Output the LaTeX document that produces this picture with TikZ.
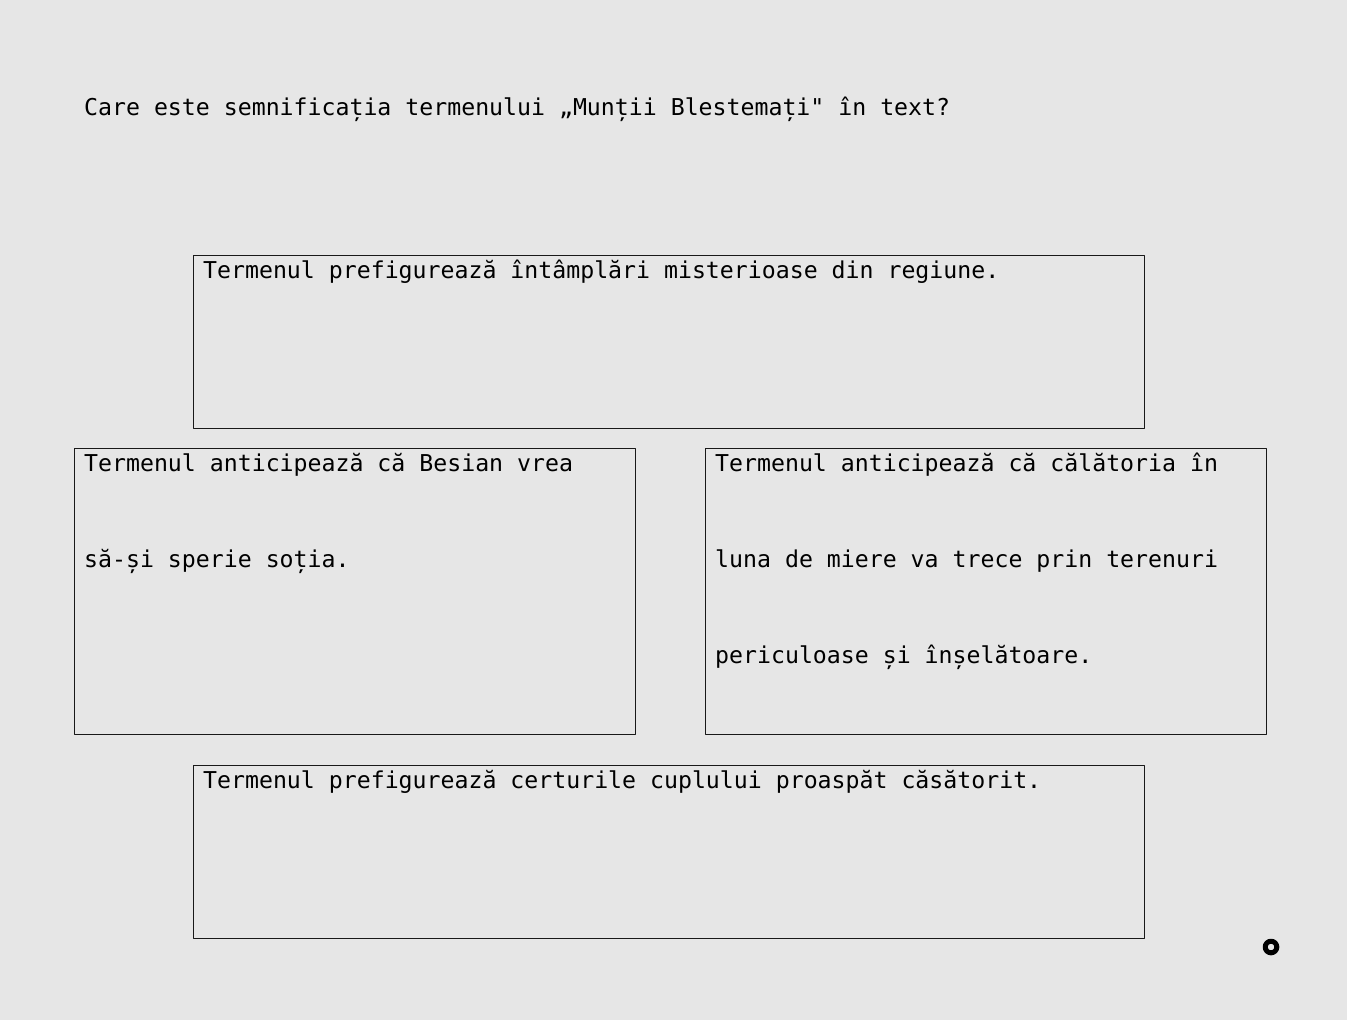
\documentclass[tikz,border=0pt]{standalone}
\usepackage{fontspec}
\setmonofont{DejaVu Sans Mono}
\usetikzlibrary{positioning}
\definecolor{paper}{HTML}{E6E6E6}
\begin{document}
\begin{tikzpicture}[
	x=1pt,y=-1pt,
	line join=round,
	answer/.style={draw=black!90,line width=1pt,inner sep=0pt,anchor=north west},
	wide/.style={answer,minimum width=951pt,minimum height=173pt},
	half/.style={answer,minimum width=561pt,minimum height=286pt},
	txt/.style={anchor=base west,inner sep=0pt,align=left,font=\ttfamily\fontsize{23.2}{96}\selectfont}
	]
	\fill[paper] (0,0) rectangle (1347,1020);
	\useasboundingbox (0,0) rectangle (1347,1020);
	% question
	\node[txt] (question) at (84,115) {Care este semnificația termenului „Munții Blestemați" în text?};
	% answer boxes
	\node[wide] (ansA) at (193,255) {};
	\node[half] (ansB) at (74,448) {};
	\node[half] (ansC) at (705,448) {};
	\node[wide] (ansD) at (193,765) {};
	% base anchor sits on the last line, so shift by the lines below the first
	\node[txt] (textA) at ([xshift=10pt,yshift=-23pt]ansA.north west) {Termenul prefigurează întâmplări misterioase din regiune.};
	\node[txt] (textB) at ([xshift=10pt,yshift=-119pt]ansB.north west) {Termenul anticipează că Besian vrea\\să-și sperie soția.};
	\node[txt] (textC) at ([xshift=10pt,yshift=-215pt]ansC.north west) {Termenul anticipează că călătoria în\\luna de miere va trece prin terenuri\\periculoase și înșelătoare.};
	\node[txt] (textD) at ([xshift=10pt,yshift=-23pt]ansD.north west) {Termenul prefigurează certurile cuplului proaspăt căsătorit.};
	% marker
	\node[circle,draw,line width=5pt,minimum size=11.6pt,inner sep=0pt] (dot) at (1271,947) {};
\end{tikzpicture}
\end{document}
